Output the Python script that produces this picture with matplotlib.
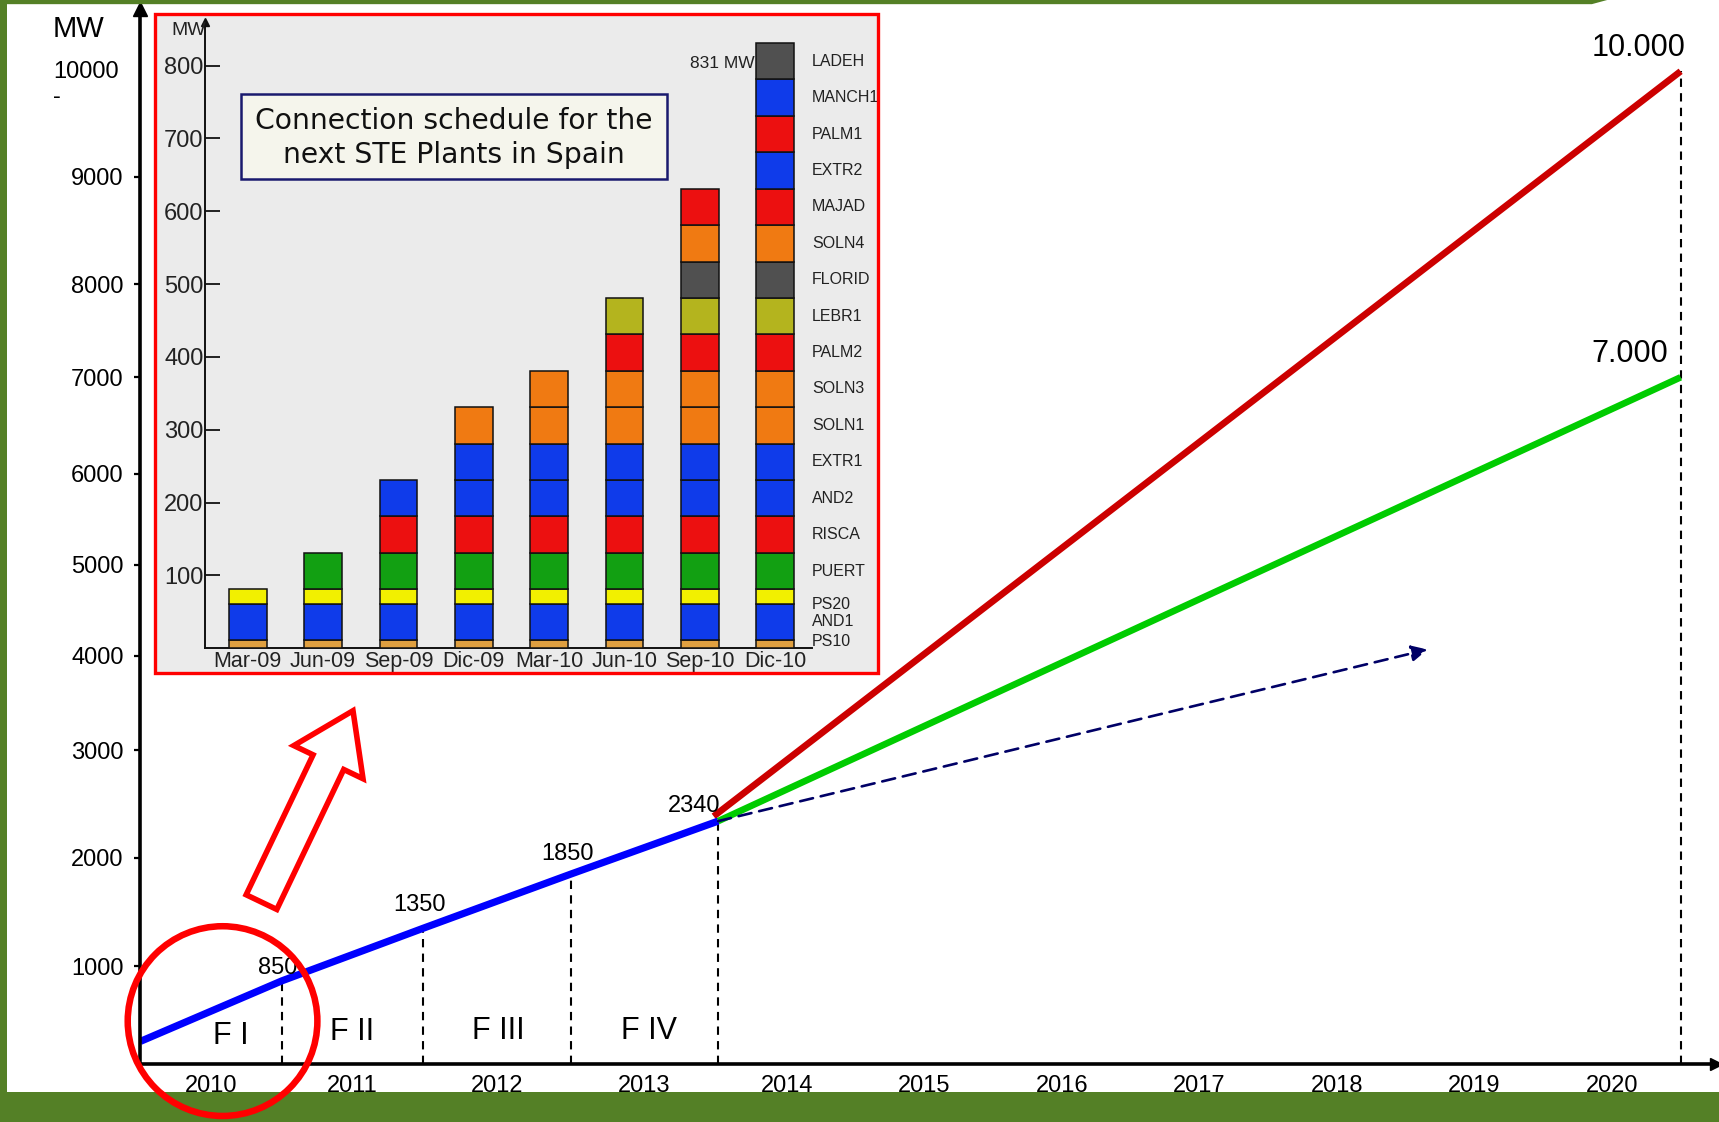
import numpy as np
import matplotlib
matplotlib.use("Agg")
import matplotlib.pyplot as plt
import matplotlib.patches as mpatches

plt.rcParams['font.family'] = ['Liberation Sans', 'DejaVu Sans']

# ---------------- data ----------------
phase_years = [2010, 2011, 2012, 2013, 2014]
phase_mw = [230, 850, 1350, 1850, 2340]
phase_point_labels = ['850', '1350', '1850', '2340']
phase_names = ['F I', 'F II', 'F III', 'F IV']
year_labels = ['2010', '2011', '2012', '2013', '2014', '2015', '2016',
               '2017', '2018', '2019', '2020']
y_ticks = [1000, 2000, 3000, 4000, 5000, 6000, 7000, 8000, 9000]
target_year = 2021
high_start = [2013.97, 2385]
high_target_mw = 10000
low_target_mw = 7000
high_label = '10.000'
low_label = '7.000'
trend_end = [2019.16, 4070]

periods = ['Mar-09', 'Jun-09', 'Sep-09', 'Dic-09', 'Mar-10', 'Jun-10', 'Sep-10', 'Dic-10']
plants = ['PS10', 'AND1', 'PS20', 'PUERT', 'RISCA', 'AND2', 'EXTR1', 'SOLN1',
          'SOLN3', 'PALM2', 'LEBR1', 'FLORID', 'SOLN4', 'MAJAD', 'EXTR2',
          'PALM1', 'MANCH1', 'LADEH']
plant_mw = [11, 50, 20, 50, 50, 50, 50, 50, 50, 50, 50, 50, 50, 50, 50, 50, 50, 50]
plant_first_period = [0, 0, 0, 1, 2, 2, 3, 3, 4, 5, 5, 6, 6, 6, 7, 7, 7, 7]
inset_ticks = [100, 200, 300, 400, 500, 600, 700, 800]

# ---------------- styles ----------------
BLUE = '#0F3BEA'; RED = '#EC1010'; ORANGE = '#F07A12'; GREEN_B = '#12A012'
YELLOW = '#F2F000'; OLIVE = '#B4B41E'; GREY = '#505050'; TAN = '#E0A040'
plant_colors = [TAN, BLUE, YELLOW, GREEN_B, RED, BLUE, BLUE, ORANGE, ORANGE,
                RED, OLIVE, GREY, ORANGE, RED, BLUE, RED, BLUE, GREY]
FRAME_GREEN = '#548026'

W, H = 1568.0, 1023.0  # layout reference grid

fig = plt.figure(figsize=(17.19, 11.22), dpi=100)
fig.patch.set_facecolor('white')

# background overlay (inset panel background)
bg = fig.add_axes([0, 0, 1, 1], zorder=-1)
bg.set_xlim(0, W); bg.set_ylim(H, 0); bg.axis('off')
bg.add_patch(mpatches.Rectangle((141, 13), 660, 601, fc='#EBEBEB', ec='none'))

# ---------------- main chart ----------------
XA_YEARS = np.array([2008, 2010, 2011, 2012, 2013, 2014, 2021, 2024], float)
XA_POS = np.array([-130, 128, 257, 386, 521, 655, 1533, 1909.2])
YA_MW = np.array([-2000, 0, 1000, 2000, 3000, 4000, 5000, 6000, 7000, 8000,
                  9000, 10000, 12000], float)
YA_POS = 970 - np.array([1148, 970, 881, 782, 684, 598, 515, 432, 344, 259,
                         161, 65, -127], float)


def fwd_x(v):
    return np.interp(v, XA_YEARS, XA_POS)


def inv_x(p):
    return np.interp(p, XA_POS, XA_YEARS)


def fwd_y(v):
    return np.interp(v, YA_MW, YA_POS)


def inv_y(p):
    return np.interp(p, YA_POS, YA_MW)


ax = fig.add_axes([128 / W, 1 - 970 / H, (1565 - 128) / W, (970 - 8) / H], zorder=1)
ax.set_facecolor('none')
ax.set_xscale('function', functions=(fwd_x, inv_x))
ax.set_yscale('function', functions=(fwd_y, inv_y))
ax.set_xlim(2010, float(inv_x(1565)))
ax.set_ylim(0, float(inv_y(970 - 8)))
for s in ['top', 'right']:
    ax.spines[s].set_visible(False)
for s in ['left', 'bottom']:
    ax.spines[s].set_linewidth(2.6)
ax.plot(1, 0, '>', color='black', ms=9, transform=ax.transAxes, clip_on=False)
ax.plot(0, 1, '^', color='black', ms=10, transform=ax.transAxes, clip_on=False)

ax.set_yticks(y_ticks)
ax.set_yticklabels([str(v) for v in y_ticks])
ax.tick_params(axis='y', direction='out', length=4, width=1.6, labelsize=17, pad=8)
ax.set_xticks([int(y) + 0.5 for y in year_labels])
ax.set_xticklabels(year_labels)
ax.tick_params(axis='x', length=0, labelsize=17, pad=8)
ax.minorticks_off()

# vertical dashed phase limits
ax.vlines(phase_years[1:], 0, phase_mw[1:], colors='black', lw=1.5,
          linestyles=(0, (4, 3)))
ax.vlines([target_year], 0, [high_target_mw], colors='black', lw=1.5,
          linestyles=(0, (4, 3)))

# scenario lines
ax.plot([high_start[0], target_year], [high_start[1], high_target_mw],
        color='#CC0000', lw=4.8, solid_capstyle='butt')
ax.plot([phase_years[-1], target_year], [phase_mw[-1], low_target_mw],
        color='#00CC00', lw=4.8, solid_capstyle='butt')
ax.annotate('', xy=trend_end, xytext=(phase_years[-1], phase_mw[-1]),
            arrowprops=dict(arrowstyle='-|>', color='#000066', lw=1.9,
                            linestyle=(0, (5, 3)), mutation_scale=24,
                            shrinkA=0, shrinkB=0))
ax.plot(phase_years, phase_mw, color='#0000FF', lw=5.2, solid_capstyle='butt')

# value labels
pt_offsets = [(-3.2, 9.0), (-2.4, 16.9), (-2.4, 14.1), (-17.4, 10.8)]
for lab, xv, yv, off in zip(phase_point_labels, phase_years[1:], phase_mw[1:], pt_offsets):
    ax.annotate(lab, xy=(xv, yv), xytext=off, textcoords='offset points',
                ha='center', va='center', fontsize=17)
ax.annotate(high_label, xy=(target_year, high_target_mw), xytext=(-30, 16.6),
            textcoords='offset points', ha='center', va='center', fontsize=22)
ax.annotate(low_label, xy=(target_year, low_target_mw), xytext=(-36.3, 16.6),
            textcoords='offset points', ha='center', va='center', fontsize=22)

phase_label_x = [2010.64, 2011.5, 2012.51, 2013.53]
phase_label_y = [281, 326, 337, 337]
for name, xv, yv in zip(phase_names, phase_label_x, phase_label_y):
    ax.text(xv, yv, name, ha='center', va='center', fontsize=22)

# ---------------- inset chart ----------------
ax_in = fig.add_axes([187 / W, 1 - 591 / H, (741 - 187) / W, (591 - 20) / H], zorder=2)
ax_in.set_facecolor('none')
heights = np.zeros((len(plants), len(periods)))
for i, (mw, first) in enumerate(zip(plant_mw, plant_first_period)):
    heights[i, first:] = mw
bottoms = np.vstack([np.zeros(len(periods)), np.cumsum(heights, axis=0)[:-1]])
totals = heights.sum(axis=0)
xpos = np.arange(len(periods))
for i in range(len(plants)):
    m = heights[i] > 0
    ax_in.bar(xpos[m], heights[i][m], bottom=bottoms[i][m], width=0.5,
              color=plant_colors[i], edgecolor='#111111', linewidth=1.1, zorder=3)
ax_in.set_xlim(-0.568, 7.496)
ax_in.set_ylim(0, 860)
for s in ['top', 'right']:
    ax_in.spines[s].set_visible(False)
for s in ['left', 'bottom']:
    ax_in.spines[s].set_linewidth(1.4)
    ax_in.spines[s].set_color('#111111')
ax_in.plot(0, 1, '^', color='#111111', ms=6, transform=ax_in.transAxes, clip_on=False)
ax_in.set_yticks(inset_ticks)
ax_in.set_yticklabels([str(v) for v in inset_ticks])
ax_in.tick_params(axis='y', direction='in', length=11, width=1.3, labelsize=17,
                  pad=1, labelcolor='#222222', color='#111111')
ax_in.set_xticks(xpos)
ax_in.set_xticklabels(periods)
ax_in.tick_params(axis='x', length=0, labelsize=15.5, pad=2, labelcolor='#222222')

label_y_override = {'PS10': 9, 'PS20': 60}
for i, name in enumerate(plants):
    yc = bottoms[i][-1] + heights[i][-1] / 2
    yc = label_y_override.get(name, yc)
    ax_in.text(7.49, yc, name, ha='left', va='center', fontsize=11.5,
               color='#222222', clip_on=False)
ax_in.text(6.73, totals[-1] - 28, f'{int(totals[-1])} MW', ha='right',
           va='center', fontsize=12.5, color='#222222')

# ---------------- top overlay ----------------
ov = fig.add_axes([0, 0, 1, 1], zorder=3)
ov.set_xlim(0, W); ov.set_ylim(H, 0); ov.axis('off')
ov.set_facecolor('none')

# frame
ov.add_patch(mpatches.Rectangle((0, 0), 6, H, fc=FRAME_GREEN, ec='none', zorder=1))
ov.add_patch(mpatches.Polygon([(0, 0), (1466, 0), (1452, 3.8), (0, 3.8)],
                              closed=True, fc=FRAME_GREEN, ec='none', zorder=1))
ov.add_patch(mpatches.Rectangle((0, 996), W, H - 996, fc=FRAME_GREEN, ec='none', zorder=1))

# inset border and title box
ov.add_patch(mpatches.Rectangle((141, 13), 660, 601, fill=False, ec='#FF0000', lw=2.4, zorder=2))
ov.add_patch(mpatches.Rectangle((220, 86), 388, 77, fc='#F5F5EC', ec='#1A1A6E', lw=1.8, zorder=2))
ov.text(414, 110, 'Connection schedule for the', ha='center', va='center',
        fontsize=20.3, family='DejaVu Sans', color='#111111', zorder=3)
ov.text(414, 141, 'next STE Plants in Spain', ha='center', va='center',
        fontsize=20.3, family='DejaVu Sans', color='#111111', zorder=3)
ov.text(172, 27.5, 'MW', ha='center', va='center', fontsize=14, color='#222222')

# axis title texts of the main chart
ov.text(48, 26, 'MW', ha='left', va='center', fontsize=21)
ov.text(108.5, 65.5, '10000', ha='right', va='center', fontsize=17)
ov.text(48, 88, '-', ha='left', va='center', fontsize=17)

# highlight circle and block arrow
ov.add_patch(mpatches.FancyArrow(238.5, 822.5, 83.5, -174.5, width=31, head_width=70,
                                 head_length=52, length_includes_head=True,
                                 fc='white', ec='#FF0000', lw=4.0, zorder=4))
ov.add_patch(mpatches.Circle((203, 931), 86.5, fill=False, ec='#FF0000', lw=4.7, zorder=5))

fig.savefig('out.png', dpi=100)
